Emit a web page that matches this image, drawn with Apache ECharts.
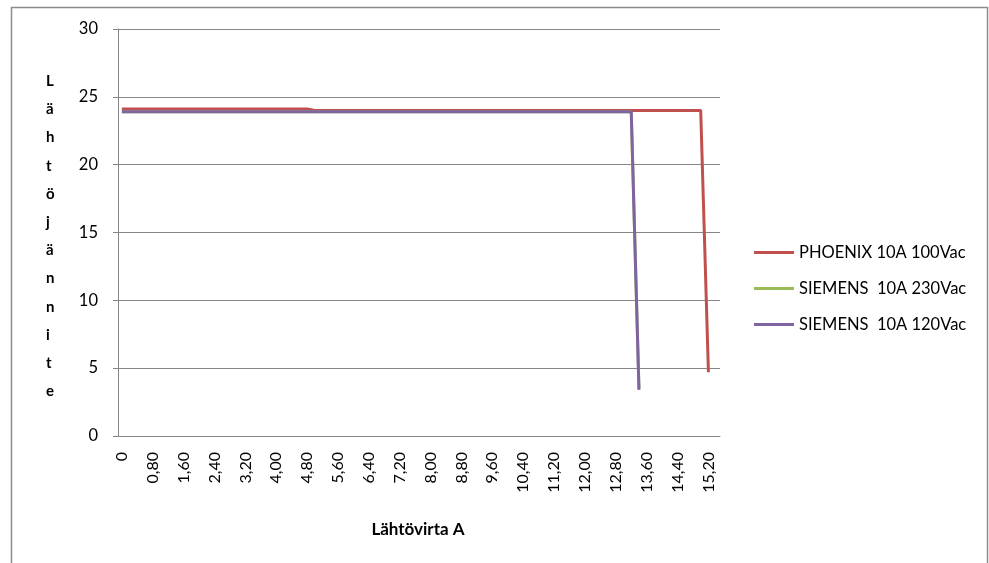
<!DOCTYPE html>
<html><head><meta charset="utf-8">
<script src="https://cdn.jsdelivr.net/npm/echarts@6/dist/echarts.min.js"></script>
<style>html,body{margin:0;padding:0;background:#fff}#c{width:989px;height:563px}</style>
</head><body><div id="c"></div>
<script>
var categories = ["0","0,20","0,40","0,60","0,80","1,00","1,20","1,40","1,60","1,80",
"2,00","2,20","2,40","2,60","2,80","3,00","3,20","3,40","3,60","3,80",
"4,00","4,20","4,40","4,60","4,80","5,00","5,20","5,40","5,60","5,80",
"6,00","6,20","6,40","6,60","6,80","7,00","7,20","7,40","7,60","7,80",
"8,00","8,20","8,40","8,60","8,80","9,00","9,20","9,40","9,60","9,80",
"10,00","10,20","10,40","10,60","10,80","11,00","11,20","11,40","11,60","11,80",
"12,00","12,20","12,40","12,60","12,80","13,00","13,20","13,40","13,60","13,80",
"14,00","14,20","14,40","14,60","14,80","15,00","15,20","15,40"];
var phoenix100 = [24.1,24.1,24.1,24.1,24.1,24.1,24.1,24.1,24.1,24.1,
24.1,24.1,24.1,24.1,24.1,24.1,24.1,24.1,24.1,24.1,
24.1,24.1,24.1,24.1,24.1,24.0,24.0,24.0,24.0,24.0,
24.0,24.0,24.0,24.0,24.0,24.0,24.0,24.0,24.0,24.0,
24.0,24.0,24.0,24.0,24.0,24.0,24.0,24.0,24.0,24.0,
24.0,24.0,24.0,24.0,24.0,24.0,24.0,24.0,24.0,24.0,
24.0,24.0,24.0,24.0,24.0,24.0,24.0,24.0,24.0,24.0,
24.0,24.0,24.0,24.0,24.0,24.0,4.7,null];
var siemens230 = [23.9,23.9,23.9,23.9,23.9,23.9,23.9,23.9,23.9,23.9,
23.9,23.9,23.9,23.9,23.9,23.9,23.9,23.9,23.9,23.9,
23.9,23.9,23.9,23.9,23.9,23.9,23.9,23.9,23.9,23.9,
23.9,23.9,23.9,23.9,23.9,23.9,23.9,23.9,23.9,23.9,
23.9,23.9,23.9,23.9,23.9,23.9,23.9,23.9,23.9,23.9,
23.9,23.9,23.9,23.9,23.9,23.9,23.9,23.9,23.9,23.9,
23.9,23.9,23.9,23.9,23.9,23.9,23.9,3.5,null,null,
null,null,null,null,null,null,null,null];
var siemens120 = [23.9,23.9,23.9,23.9,23.9,23.9,23.9,23.9,23.9,23.9,
23.9,23.9,23.9,23.9,23.9,23.9,23.9,23.9,23.9,23.9,
23.9,23.9,23.9,23.9,23.9,23.9,23.9,23.9,23.9,23.9,
23.9,23.9,23.9,23.9,23.9,23.9,23.9,23.9,23.9,23.9,
23.9,23.9,23.9,23.9,23.9,23.9,23.9,23.9,23.9,23.9,
23.9,23.9,23.9,23.9,23.9,23.9,23.9,23.9,23.9,23.9,
23.9,23.9,23.9,23.9,23.9,23.9,23.9,3.4,null,null,
null,null,null,null,null,null,null,null];
var seriesNames = ["PHOENIX 10A 100Vac","SIEMENS  10A 230Vac","SIEMENS  10A 120Vac"];
var yTitle = "L\nä\nh\nt\nö\nj\nä\nn\nn\ni\nt\ne";
var xTitle = "Lähtövirta A";

var FONT = "Lato";
var chart = echarts.init(document.getElementById('c'), null, {renderer:'canvas'});
function mk(name, data, color){
  return {name:name, type:'line', data:data, symbol:'none', showSymbol:false,
    lineStyle:{color:color, width:3}, itemStyle:{color:color}, connectNulls:false, animation:false};
}
chart.setOption({
  animation:false,
  backgroundColor:'#fff',
  textStyle:{fontFamily:FONT},
  graphic:[
    {type:'rect', shape:{x:11.5,y:7.5,width:976,height:570}, style:{fill:'none',stroke:'#8c8c8c',lineWidth:1.5}, silent:true},
    {type:'text', left:46, top:67, style:{text:yTitle, font:'bold 15px '+FONT, fill:'#000', lineHeight:28.2, align:'center'}},
    {type:'text', x:418, y:530, style:{text:xTitle, font:'bold 17px '+FONT, fill:'#000', align:'center', verticalAlign:'middle'}}
  ],
  legend:{
    orient:'vertical', left:749, top:239, itemGap:19, itemWidth:40, itemHeight:3,
    icon:'rect',
    textStyle:{fontFamily:FONT, fontSize:16.5, color:'#000'},
    data:seriesNames
  },
  grid:{left:118, top:29, right:269, bottom:127},
  xAxis:{
    type:'category', data:categories, boundaryGap:true,
    axisLine:{lineStyle:{color:'#868686'}},
    axisTick:{interval:0, length:5, lineStyle:{color:'#868686'}},
    axisLabel:{interval:3, rotate:90, color:'#000', fontSize:16, fontFamily:FONT, margin:16},
    splitLine:{show:false}
  },
  yAxis:{
    type:'value', min:0, max:30, interval:5,
    axisLine:{show:true, lineStyle:{color:'#868686'}},
    axisTick:{show:true, length:5, lineStyle:{color:'#868686'}},
    axisLabel:{color:'#000', fontSize:16.5, fontFamily:FONT, margin:20},
    splitLine:{lineStyle:{color:'#868686'}}
  },
  series:[
    mk(seriesNames[0], phoenix100, '#C0504D'),
    mk(seriesNames[1], siemens230, '#9BBB59'),
    mk(seriesNames[2], siemens120, '#8064A2')
  ]
});
</script></body></html>
